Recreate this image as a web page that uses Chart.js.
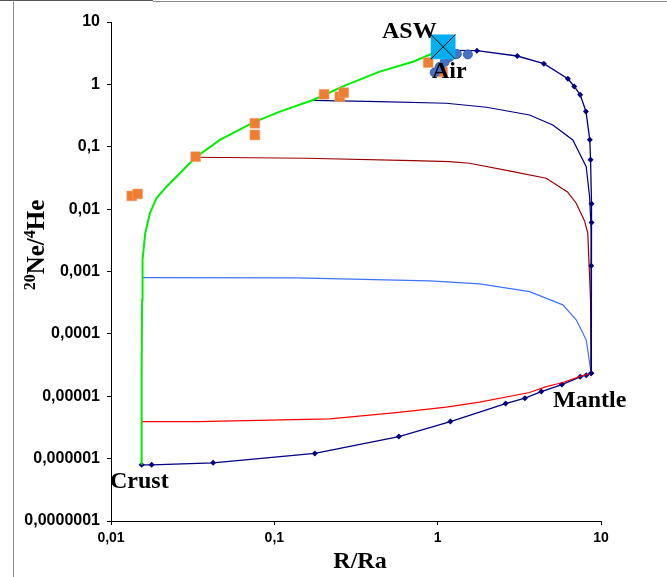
<!DOCTYPE html>
<html><head><meta charset="utf-8">
<script src="https://cdn.jsdelivr.net/npm/chart.js@4"></script>
<style>html,body{margin:0;padding:0;background:#fff;overflow:hidden}canvas{display:block}</style>
</head><body>
<canvas id="c" width="667" height="577"></canvas>
<script>
// ---- data (R/Ra vs 20Ne/4He) ----
const xTicks = [0.01, 0.1, 1, 10];
const xTickLabels = ['0,01', '0,1', '1', '10'];
const yTicks = [1e-7, 1e-6, 1e-5, 1e-4, 1e-3, 1e-2, 1e-1, 1, 10];
const yTickLabels = ['0,0000001', '0,000001', '0,00001', '0,0001', '0,001', '0,01', '0,1', '1', '10'];

const greenR  = [0.0154, 0.0154, 0.0155, 0.0156, 0.0162, 0.0173, 0.019, 0.0219, 0.0264, 0.0329, 0.0464, 0.0741, 0.108, 0.1726, 0.2765, 0.442, 0.706, 0.915, 1.08];
const greenNe = [8.0e-7, 1.83e-5, 3.5e-4, 1.53e-3, 4.11e-3, 8.6e-3, 0.015, 0.0229, 0.0376, 0.0674, 0.1285, 0.243, 0.365, 0.562, 0.98, 1.6, 2.31, 3.07, 4.0];

const crustMantleR  = [0.0154, 0.01774, 0.0422, 0.177, 0.579, 1.196, 2.606, 3.42, 4.31, 5.76, 7.46, 8.12, 8.71];
const crustMantleNe = [7.96e-7, 7.96e-7, 8.57e-7, 1.21e-6, 2.26e-6, 3.93e-6, 7.64e-6, 9.33e-6, 1.19e-5, 1.54e-5, 2.05e-5, 2.18e-5, 2.34e-5];

const redR  = [0.0154, 0.034, 0.218, 0.558, 1.13, 1.81, 3.65, 4.62, 5.84, 7.39, 8.71];
const redNe = [3.93e-6, 3.93e-6, 4.34e-6, 5.48e-6, 6.69e-6, 8.04e-6, 1.15e-5, 1.43e-5, 1.66e-5, 2.07e-5, 2.34e-5];

const lightBlueR  = [0.0156, 0.137, 0.893, 1.81, 3.65, 5.84, 7.05, 8.12, 8.71];
const lightBlueNe = [7.98e-4, 7.9e-4, 7.07e-4, 6.33e-4, 4.76e-4, 2.92e-4, 1.68e-4, 8.0e-5, 2.34e-5];

const brownR  = [0.033, 0.157, 0.706, 1.18, 1.57, 2.89, 4.62, 6.24, 7.05, 7.93, 8.30, 8.63, 8.71];
const brownNe = [0.0679, 0.0654, 0.0599, 0.0577, 0.0544, 0.0399, 0.0313, 0.0189, 0.01245, 0.00647, 0.00411, 3.5e-4, 2.34e-5];

const navyMidR  = [0.169, 0.442, 1.13, 1.99, 3.65, 5.07, 6.72, 8.12, 8.51, 8.71, 8.71];
const navyMidNe = [0.556, 0.528, 0.498, 0.43, 0.323, 0.223, 0.1285, 0.048, 0.0159, 0.00464, 2.34e-5];

const aswMantleR  = [1.1, 1.74, 3.07, 4.47, 6.27, 6.86, 7.46, 8.09, 8.54, 8.63, 8.75, 8.75, 8.71, 8.71];
const aswMantleNe = [3.5, 3.47, 2.85, 2.15, 1.23, 0.925, 0.681, 0.368, 0.129, 0.0621, 0.01225, 0.00608, 0.00124, 2.34e-5];

const samplesR  = [0.01339, 0.01456, 0.033, 0.076, 0.076, 0.2017, 0.2516, 0.266, 0.875, 1.073];
const samplesNe = [0.0163, 0.01753, 0.0694, 0.238, 0.1545, 0.694, 0.635, 0.736, 2.24, 1.58];

const airR  = [0.959, 1.028, 1.104, 1.18, 1.31, 1.53];
const airNe = [1.55, 1.9, 2.29, 2.75, 3.07, 3.02];

const aswR  = [1.08];
const aswNe = [4.0];

const pts = (xs, ys) => xs.map((x, i) => ({ x: x, y: ys[i] }));

const lineDs = (label, xs, ys, color, width, order, marker) => ({
  label, data: pts(xs, ys), showLine: true, borderColor: color, backgroundColor: color,
  borderWidth: width, tension: 0, order,
  pointStyle: 'rectRot', pointRadius: marker ? 3 : 0, pointBorderWidth: 0, pointBackgroundColor: color
});

const datasets = [
  { label: 'ASWx', data: pts(aswR, aswNe), pointStyle: 'crossRot', pointRadius: 17.5,
    borderColor: '#000', pointBorderColor: '#000', backgroundColor: '#000', borderWidth: 1, pointBorderWidth: 1, order: -1 },
  { label: 'ASW', data: pts(aswR, aswNe), pointStyle: 'rect', pointRadius: 17.5, backgroundColor: '#00B0F0', borderColor: '#00B0F0', borderWidth: 0, order: 0 },
  { label: 'Air', data: pts(airR, airNe), pointStyle: 'circle', pointRadius: 4.5, backgroundColor: '#4472C4', borderColor: '#3A62A8', borderWidth: 1, order: 1 },
  { label: 'Samples', data: pts(samplesR, samplesNe), pointStyle: 'rect', pointRadius: 7, backgroundColor: '#ED7D31', borderColor: '#F4A77A', borderWidth: 0.5, order: 2 },
  lineDs('Crust-ASW', greenR, greenNe, '#00EE00', 2, 3, false),
  lineDs('ASW-Mantle', aswMantleR, aswMantleNe, '#000080', 1.3, 4, true),
  lineDs('Navy', navyMidR, navyMidNe, '#000080', 1.2, 5, false),
  lineDs('Brown', brownR, brownNe, '#990000', 1.2, 6, false),
  lineDs('LightBlue', lightBlueR, lightBlueNe, '#3F73FF', 1.2, 7, false),
  lineDs('Red', redR, redNe, '#FF0000', 1.2, 8, false),
  lineDs('Crust-Mantle', crustMantleR, crustMantleNe, '#000080', 1.3, 9, true)
];

const decor = {
  id: 'decor',
  beforeDraw(chart) {
    const c = chart.ctx;
    c.save();
    c.fillStyle = '#fff';
    c.fillRect(0, 0, chart.width, chart.height);
    c.strokeStyle = '#555';
    c.lineWidth = 1;
    c.beginPath(); c.moveTo(0, 0.5); c.lineTo(153, 0.5); c.stroke();
    c.strokeStyle = '#888';
    c.beginPath(); c.moveTo(153, 1.5); c.lineTo(667, 1.5); c.stroke();
    c.beginPath(); c.moveTo(13.5, 1.5); c.lineTo(13.5, 577); c.stroke();
    c.restore();
  },
  afterDraw(chart) {
    const c = chart.ctx;
    c.save();
    c.fillStyle = '#000';
    c.textBaseline = 'alphabetic';
    c.font = 'bold 24px "Liberation Serif", "Times New Roman", serif';
    c.textAlign = 'left';
    c.fillText('ASW', 382, 38);
    c.fillText('Air', 432, 78);
    c.fillText('Crust', 110, 488);
    c.fillText('Mantle', 553, 407);
    // x title
    c.textAlign = 'center';
    c.fillText('R/Ra', 360, 568);
    // y title with superscripts
    c.translate(44, 245);
    c.rotate(-Math.PI / 2);
    const supF = 'bold 16px "Liberation Serif", serif';
    const mainF = 'bold 25px "Liberation Serif", serif';
    const parts = [['20', supF, -9], ['Ne/', mainF, 0], ['4', supF, -9], ['He', mainF, 0]];
    let total = 0;
    parts.forEach(p => { c.font = p[1]; total += c.measureText(p[0]).width; });
    let x = -total / 2;
    c.textAlign = 'left';
    parts.forEach(p => { c.font = p[1]; c.fillText(p[0], x, p[2]); x += c.measureText(p[0]).width; });
    c.restore();
  }
};

new Chart(document.getElementById('c'), {
  type: 'scatter',
  data: { datasets },
  plugins: [decor],
  options: {
    responsive: false,
    animation: false,
    devicePixelRatio: 1,
    layout: { autoPadding: false, padding: { left: 0, right: 66, top: 22, bottom: 0 } },
    plugins: { legend: { display: false }, tooltip: { enabled: false } },
    scales: {
      x: {
        type: 'logarithmic', min: 0.01, max: 10,
        afterFit: s => { s.height = 56; },
        afterBuildTicks: s => { s.ticks = xTicks.map(v => ({ value: v })); },
        border: { display: true, color: '#000', width: 1 },
        grid: { display: true, drawOnChartArea: false, drawTicks: true, tickLength: 4, color: '#000' },
        ticks: {
          autoSkip: false, maxRotation: 0, padding: 5, color: '#000',
          font: { family: '"Liberation Sans", Arial, sans-serif', size: 14, weight: 'bold' },
          callback: (v, i) => xTickLabels[i]
        }
      },
      y: {
        type: 'logarithmic', min: 1e-7, max: 10,
        afterFit: s => { s.width = 111; },
        afterBuildTicks: s => { s.ticks = yTicks.map(v => ({ value: v })); },
        border: { display: true, color: '#000', width: 1 },
        grid: { display: true, drawOnChartArea: false, drawTicks: true, tickLength: 4, color: '#000' },
        ticks: {
          autoSkip: false, padding: 7, color: '#000',
          font: { family: '"Liberation Sans", Arial, sans-serif', size: 16, weight: 'bold' },
          callback: (v, i) => yTickLabels[i]
        }
      }
    }
  }
});
</script>
</body></html>
